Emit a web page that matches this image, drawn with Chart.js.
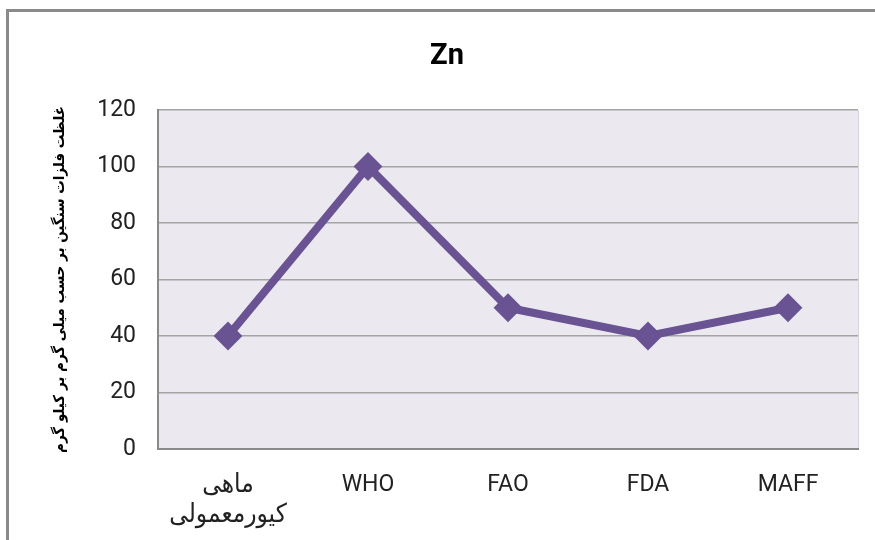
<!DOCTYPE html>
<html>
<head>
<meta charset="utf-8">
<script src="https://cdn.jsdelivr.net/npm/chart.js@4/dist/chart.umd.min.js"></script>
<style>
  body { margin: 0; background: #fff; }
  #frame {
    position: absolute; left: 6px; top: 9px; width: 900px; height: 600px;
    border: 3px solid #8a8a8a; box-sizing: border-box;
  }
  #wrap { position: absolute; left: 0; top: 0; width: 875px; height: 540px; }
</style>
</head>
<body>
<div id="frame"></div>
<div id="wrap"><canvas id="znChart" width="875" height="540"></canvas></div>
<script>
// values
const categories = [['ماهی', 'کیورمعمولی'], 'WHO', 'FAO', 'FDA', 'MAFF'];
const znValues = [40, 100, 50, 40, 50];
const yTicks = [0, 20, 40, 60, 80, 100, 120];
const chartTitle = 'Zn';
const yTitle = 'غلظت فلزات سنگین بر حسب میلی گرم بر کیلو گرم';

const lineColor = '#6A5393';
const tickFont = { family: "'Roboto', sans-serif", size: 23, lineHeight: 1.3 };
const arabicTickFont = { family: "'DejaVu Sans Condensed', 'DejaVu Sans', sans-serif", size: 26, lineHeight: 1.15 };

// plot area background
const plotBg = {
    id: 'plotBg',
    beforeDraw(chart) {
        const a = chart.chartArea;
        const ctx = chart.ctx;
        ctx.save();
        ctx.fillStyle = '#EBE9EF';
        ctx.fillRect(a.left, a.top, a.right - a.left, a.bottom - a.top);
        ctx.strokeStyle = '#d6d4da';
        ctx.lineWidth = 1;
        ctx.beginPath();
        ctx.moveTo(a.right + 0.5, a.top);
        ctx.lineTo(a.right + 0.5, a.bottom);
        ctx.stroke();
        ctx.restore();
    }
};

const canvas = document.getElementById('znChart');
new Chart(canvas, {
    type: 'line',
    data: {
        labels: categories,
        datasets: [{
            label: chartTitle,
            data: znValues,
            borderColor: lineColor,
            backgroundColor: lineColor,
            borderWidth: 8,
            pointStyle: 'rectRot',
            pointRadius: 13,
            pointBorderWidth: 2,
            pointHoverRadius: 13,
            tension: 0
        }]
    },
    options: {
        responsive: false,
        animation: false,
        layout: { padding: { left: 36, right: 17, top: 0, bottom: 0 } },
        plugins: {
            legend: { display: false },
            tooltip: { enabled: false },
            title: {
                display: true,
                text: chartTitle,
                color: '#000',
                font: { family: "'Roboto', sans-serif", size: 29, weight: 'bold', lineHeight: 1.2 },
                padding: { top: 39, bottom: 36.2 }
            }
        },
        scales: {
            x: {
                offset: true,
                grid: { display: false, drawTicks: false },
                border: { display: true, color: '#8a8a8a', width: 2 },
                ticks: {
                    color: '#222',
                    font: (ctx) => ctx.index === 0 ? arabicTickFont : tickFont,
                    padding: 21,
                    maxRotation: 0,
                    autoSkip: false
                },
                afterFit(scale) { scale.height = 91; }
            },
            y: {
                min: 0,
                max: 120,
                afterBuildTicks(scale) { scale.ticks = yTicks.map(v => ({ value: v })); },
                grid: { color: '#a4a4a4', lineWidth: 1.5, drawTicks: false },
                border: { display: true, color: '#8a8a8a', width: 2 },
                ticks: { color: '#222', font: tickFont, padding: 22 },
                title: {
                    display: true,
                    text: yTitle,
                    color: '#000',
                    font: { family: "'DejaVu Sans Condensed', 'DejaVu Sans', sans-serif", size: 15, weight: 'bold', lineHeight: 1.2 },
                    padding: { top: 15, bottom: 0 }
                },
                afterFit(scale) { scale.width = 122; }
            }
        }
    },
    plugins: [plotBg]
});
</script>
</body>
</html>
